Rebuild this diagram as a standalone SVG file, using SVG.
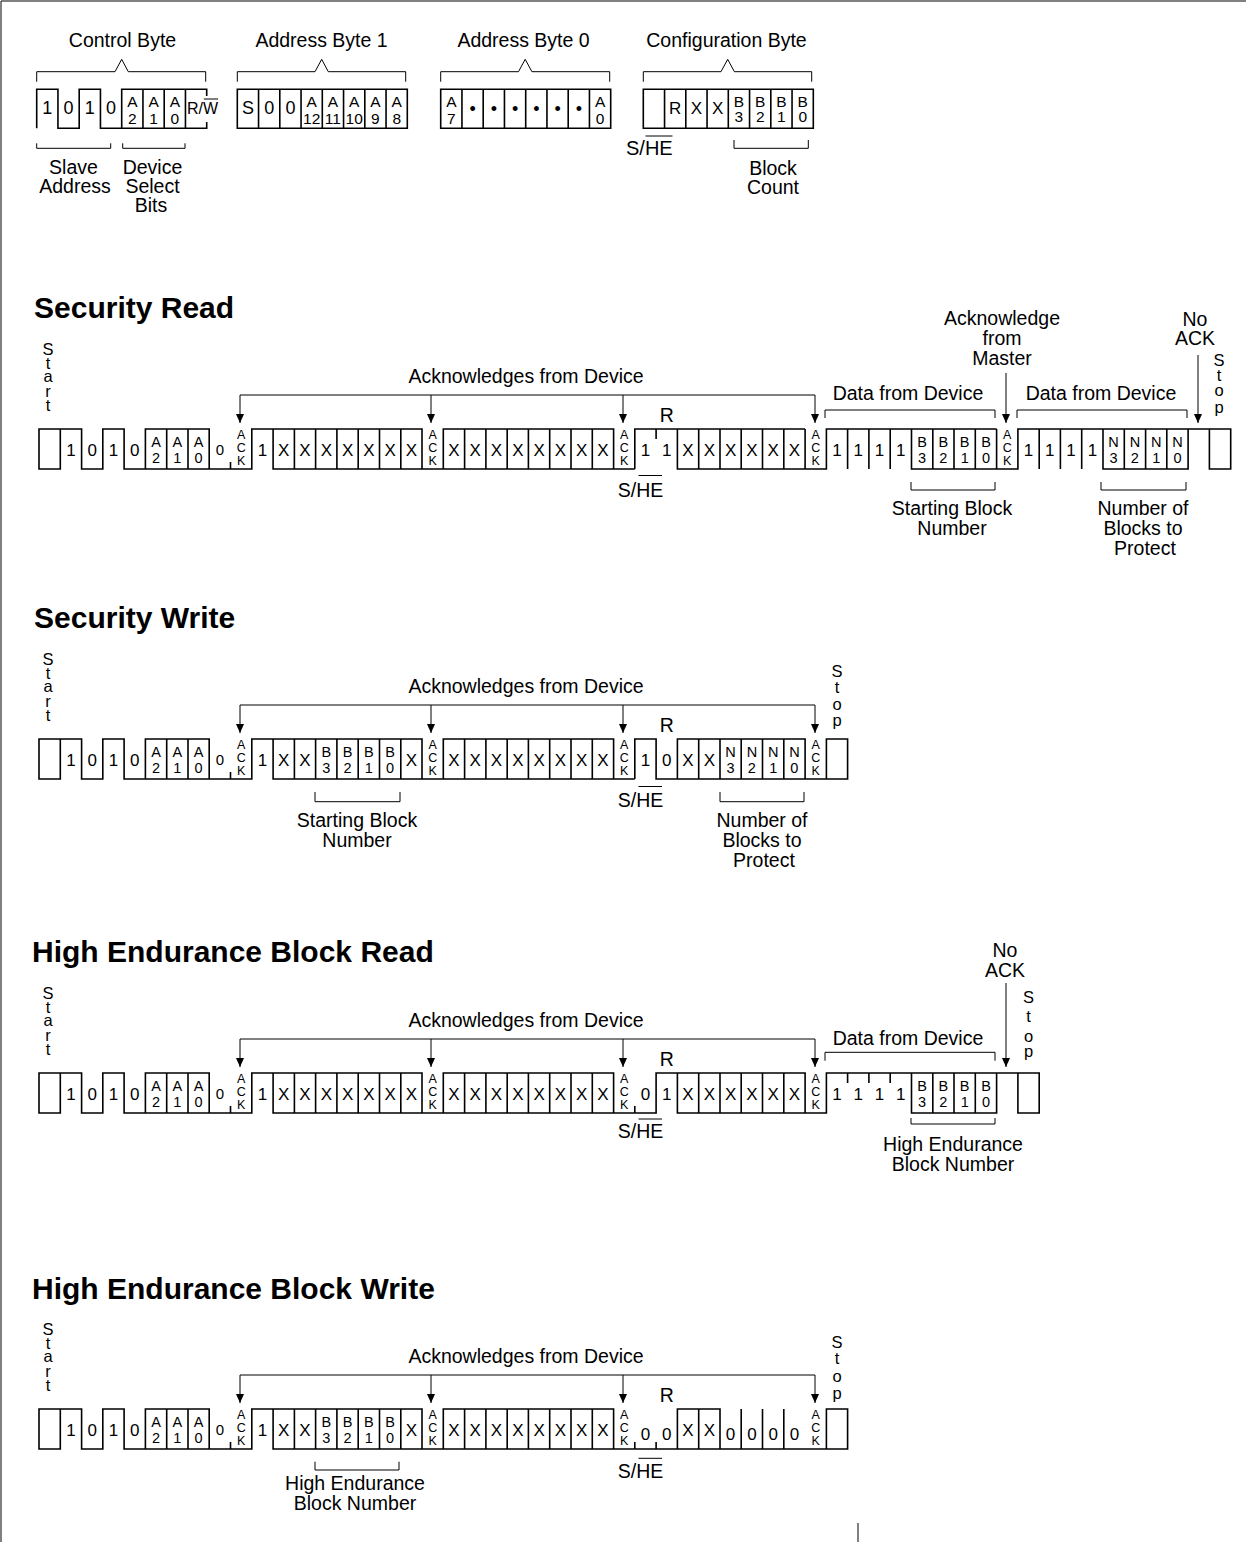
<svg xmlns="http://www.w3.org/2000/svg" width="1246" height="1542" viewBox="0 0 1246 1542">
<style>
text{font-family:"Liberation Sans",Arial,Helvetica,sans-serif;fill:#000}
.lb{font-size:19.5px;text-anchor:middle}
.ti{font-size:30px;font-weight:bold}
.c{font-size:17px;text-anchor:middle}
.c0{font-size:15px;text-anchor:middle}
.ct{font-size:18px;text-anchor:middle}
.s{font-size:14.5px;text-anchor:middle}
.st{font-size:15.5px;text-anchor:middle}
.k{font-size:12.5px;text-anchor:middle}
.v{font-size:16.5px;text-anchor:middle}
.w{fill:none;stroke:#000;stroke-width:1.6}
.t{fill:none;stroke:#000;stroke-width:1}
.ar{fill:none;stroke:#000;stroke-width:1;marker-end:url(#ah)}
</style>
<defs>
<marker id="ah" markerUnits="userSpaceOnUse" markerWidth="9" markerHeight="8" refX="9" refY="4" orient="auto" viewBox="0 0 9 8"><path d="M0,0L9,4L0,8Z" fill="#000"/></marker>
<path id="wpre" class="w" d="M39,429H60.3V469H39Z M60.3,429H81.6V469H102.8V429H124.1V469H251.8V429H273.1V469H443.3V429H613.6V469H634.8 M145.4,469V429H209.2V469 M166.7,429V469M188,429V469 M230.5,462V469 M273.1,429H422V469 M294.4,429V469M315.6,429V469M336.9,429V469M358.2,429V469M379.5,429V469M400.8,429V469 M443.3,469H613.6 M464.6,429V469M485.9,429V469M507.2,429V469M528.4,429V469M549.7,429V469M571,429V469M592.3,429V469"/>
<g id="tpre">
<text class="c" y="455.5"><tspan x="70.9">1</tspan><tspan x="92.2">0</tspan><tspan x="113.5">1</tspan><tspan x="134.8">0</tspan><tspan x="262.4">1</tspan></text>
<text class="s"><tspan x="156" y="446.5">A</tspan><tspan x="156" y="463">2</tspan></text>
<text class="s"><tspan x="177.3" y="446.5">A</tspan><tspan x="177.3" y="463">1</tspan></text>
<text class="s"><tspan x="198.6" y="446.5">A</tspan><tspan x="198.6" y="463">0</tspan></text>
<text class="c0" x="219.9" y="455">0</text>
<text class="k"><tspan x="241.2" y="438.5">A</tspan><tspan x="241.2" y="451.5">C</tspan><tspan x="241.2" y="464.5">K</tspan></text>
<text class="k"><tspan x="432.7" y="438.5">A</tspan><tspan x="432.7" y="451.5">C</tspan><tspan x="432.7" y="464.5">K</tspan></text>
<text class="k"><tspan x="624.2" y="438.5">A</tspan><tspan x="624.2" y="451.5">C</tspan><tspan x="624.2" y="464.5">K</tspan></text>
<text class="c" y="455.5"><tspan x="454">X</tspan><tspan x="475.2">X</tspan><tspan x="496.5">X</tspan><tspan x="517.8">X</tspan><tspan x="539.1">X</tspan><tspan x="560.4">X</tspan><tspan x="581.6">X</tspan><tspan x="602.9">X</tspan></text>
<text class="lb" x="526" y="383">Acknowledges from Device</text>
<path class="t" d="M240,395H815"/>
<path class="ar" d="M240,395V423"/><path class="ar" d="M431,395V423"/><path class="ar" d="M623,395V423"/><path class="ar" d="M815,395V423"/>
<text class="v"><tspan x="48" y="355">S</tspan><tspan x="48" y="369">t</tspan><tspan x="48" y="382">a</tspan><tspan x="48" y="397">r</tspan><tspan x="48" y="411">t</tspan></text>
<text class="lb" x="666.8" y="422">R</text>
</g>
</defs>

<path class="t" stroke-width="1.5" d="M1,1542V1H1246"/>
<path class="t" stroke-width="1.5" d="M858,1523V1542"/>

<g id="control-byte">
<text class="lb" x="122.5" y="47">Control Byte</text>
<path class="t" d="M36.7,81.7V71.7H115L121.7,59.3L128.3,71.7H205.7V81.7"/>
<path class="w" d="M36.7,128.3V89.3H57.95V128.3H79.2V89.3H100.45V128.3H206.7V122 M121.7,128.3V89.3H206.7V96 M142.95,89.3V128.3 M164.2,89.3V128.3 M185.45,89.3V128.3"/>
<text class="ct" y="113.5"><tspan x="47.3">1</tspan><tspan x="68.6">0</tspan><tspan x="89.8">1</tspan><tspan x="111.1">0</tspan></text>
<text class="st"><tspan x="132.3" y="107">A</tspan><tspan x="132.3" y="123.5">2</tspan></text>
<text class="st"><tspan x="153.6" y="107">A</tspan><tspan x="153.6" y="123.5">1</tspan></text>
<text class="st"><tspan x="174.8" y="107">A</tspan><tspan x="174.8" y="123.5">0</tspan></text>
<text x="187" y="113.5" style="font-size:16px">R/W</text>
<path class="t" d="M203.8,99H218"/>
<path class="t" d="M36.7,143.3V148.3H110.7V143.3 M122.7,143.3V148.3H185V143.3"/>
<text class="lb" x="73.5" y="174">Slave</text>
<text class="lb" x="75" y="193">Address</text>
<text class="lb" x="152.5" y="174">Device</text>
<text class="lb" x="152.5" y="193">Select</text>
<text class="lb" x="151" y="212">Bits</text>
</g>

<g id="address-byte-1">
<text class="lb" x="321.5" y="47">Address Byte 1</text>
<path class="t" d="M237.3,81.7V71.7H315L321.7,59.3L328.3,71.7H405.7V81.7"/>
<path class="w" d="M237.3,89.3H407.3V128.3H237.3Z M258.55,89.3V128.3M279.8,89.3V128.3M301.05,89.3V128.3M322.3,89.3V128.3M343.55,89.3V128.3M364.8,89.3V128.3M386.05,89.3V128.3"/>
<text class="ct" y="113.5"><tspan x="247.9">S</tspan><tspan x="269.2">0</tspan><tspan x="290.4">0</tspan></text>
<text class="st" y="107"><tspan x="311.7">A</tspan><tspan x="332.9">A</tspan><tspan x="354.2">A</tspan><tspan x="375.4">A</tspan><tspan x="396.7">A</tspan></text>
<text class="st" y="123.5"><tspan x="311.7">12</tspan><tspan x="332.9">11</tspan><tspan x="354.2">10</tspan><tspan x="375.4">9</tspan><tspan x="396.7">8</tspan></text>
</g>

<g id="address-byte-0">
<text class="lb" x="523.5" y="47">Address Byte 0</text>
<path class="t" d="M440.7,81.7V71.7H518.5L525.2,59.3L531.9,71.7H609.7V81.7"/>
<path class="w" d="M440.7,89.3H610.7V128.3H440.7Z M461.95,89.3V128.3M483.2,89.3V128.3M504.45,89.3V128.3M525.7,89.3V128.3M546.95,89.3V128.3M568.2,89.3V128.3M589.45,89.3V128.3"/>
<text class="st"><tspan x="451.3" y="107">A</tspan><tspan x="451.3" y="123.5">7</tspan></text>
<text class="st"><tspan x="600.1" y="107">A</tspan><tspan x="600.1" y="123.5">0</tspan></text>
<text class="ct" y="115"><tspan x="472.6">•</tspan><tspan x="493.8">•</tspan><tspan x="515.1">•</tspan><tspan x="536.3">•</tspan><tspan x="557.6">•</tspan><tspan x="578.8">•</tspan></text>
</g>

<g id="configuration-byte">
<text class="lb" x="726.5" y="47">Configuration Byte</text>
<path class="t" d="M643.3,81.7V71.7H721L727.7,59.3L734.4,71.7H811.7V81.7"/>
<path class="w" d="M643.3,89.3H813.3V128.3H643.3Z M664.55,89.3V128.3M685.8,89.3V128.3M707.05,89.3V128.3M728.3,89.3V128.3M749.55,89.3V128.3M770.8,89.3V128.3M792.05,89.3V128.3"/>
<text class="c" y="114"><tspan x="675.2">R</tspan><tspan x="696.4">X</tspan><tspan x="717.7">X</tspan></text>
<text class="st" y="107"><tspan x="738.9">B</tspan><tspan x="760.2">B</tspan><tspan x="781.4">B</tspan><tspan x="802.7">B</tspan></text>
<text class="st" y="122"><tspan x="738.9">3</tspan><tspan x="760.2">2</tspan><tspan x="781.4">1</tspan><tspan x="802.7">0</tspan></text>
<text x="626" y="155" style="font-size:20px">S/HE</text>
<path class="t" d="M645.5,136H672.5"/>
<path class="t" d="M734,140V148.3H808.3V140"/>
<text class="lb" x="773" y="175">Block</text>
<text class="lb" x="773" y="194">Count</text>
</g>

<text class="ti" x="34" y="318">Security Read</text>
<g id="security-read">
<use href="#wpre"/>
<use href="#tpre"/>
<path class="w" d="M634.8,469V429H805.1 M677.4,429V469H826.4V429H996.6 M656.1,429V439 M698.7,429V469M720,429V469M741.2,429V469M762.5,429V469M783.8,429V469M805.1,429V469 M847.6,429V469M868.9,429V469M890.2,429V469 M911.5,429V469H1017.9V429H1209.4 M932.8,429V469M954,429V469M975.3,429V469M996.6,429V469 M1039.2,429V469M1060.4,429V469M1081.7,429V469 M1103,429V469H1188.1V429 M1124.3,429V469M1145.6,429V469M1166.8,429V469 M1209.4,429H1230.7V469H1209.4Z"/>
<text class="c" y="455.5"><tspan x="283.7">X</tspan><tspan x="305">X</tspan><tspan x="326.3">X</tspan><tspan x="347.6">X</tspan><tspan x="368.8">X</tspan><tspan x="390.1">X</tspan><tspan x="411.4">X</tspan><tspan x="645.5">1</tspan><tspan x="666.8">1</tspan><tspan x="688">X</tspan><tspan x="709.3">X</tspan><tspan x="730.6">X</tspan><tspan x="751.9">X</tspan><tspan x="773.2">X</tspan><tspan x="794.4">X</tspan><tspan x="837">1</tspan><tspan x="858.3">1</tspan><tspan x="879.6">1</tspan><tspan x="900.8">1</tspan><tspan x="1028.5">1</tspan><tspan x="1049.8">1</tspan><tspan x="1071.1">1</tspan><tspan x="1092.4">1</tspan></text>
<text class="k"><tspan x="815.7" y="438.5">A</tspan><tspan x="815.7" y="451.5">C</tspan><tspan x="815.7" y="464.5">K</tspan></text>
<text class="k"><tspan x="1007.2" y="438.5">A</tspan><tspan x="1007.2" y="451.5">C</tspan><tspan x="1007.2" y="464.5">K</tspan></text>
<text class="s" y="446.5"><tspan x="922.1">B</tspan><tspan x="943.4">B</tspan><tspan x="964.7">B</tspan><tspan x="986">B</tspan><tspan x="1113.6">N</tspan><tspan x="1134.9">N</tspan><tspan x="1156.2">N</tspan><tspan x="1177.5">N</tspan></text>
<text class="s" y="463"><tspan x="922.1">3</tspan><tspan x="943.4">2</tspan><tspan x="964.7">1</tspan><tspan x="986">0</tspan><tspan x="1113.6">3</tspan><tspan x="1134.9">2</tspan><tspan x="1156.2">1</tspan><tspan x="1177.5">0</tspan></text>
<text class="lb" x="640.5" y="497">S/HE</text>
<path class="t" d="M638.5,475.5H662"/>
<text class="lb" x="908" y="400">Data from Device</text>
<path class="t" d="M825,418V410H995V418"/>
<text class="lb" x="1002" y="325">Acknowledge</text>
<text class="lb" x="1002" y="345">from</text>
<text class="lb" x="1002" y="365">Master</text>
<path class="ar" d="M1006,373V423"/>
<text class="lb" x="1101" y="400">Data from Device</text>
<path class="t" d="M1017,418V410H1187V418"/>
<text class="lb" x="1195" y="326">No</text>
<text class="lb" x="1195" y="345">ACK</text>
<path class="ar" d="M1198,355V423"/>
<text class="v"><tspan x="1219" y="366">S</tspan><tspan x="1219" y="381">t</tspan><tspan x="1219" y="396">o</tspan><tspan x="1219" y="412.5">p</tspan></text>
<path class="t" d="M911,482V490H995V482"/>
<text class="lb" x="952" y="515">Starting Block</text>
<text class="lb" x="952" y="535">Number</text>
<path class="t" d="M1101,482V490H1186V482"/>
<text class="lb" x="1143" y="515">Number of</text>
<text class="lb" x="1143" y="535">Blocks to</text>
<text class="lb" x="1145" y="555">Protect</text>
</g>

<text class="ti" x="34" y="628">Security Write</text>
<g id="security-write" transform="translate(0,310)">
<use href="#wpre"/>
<use href="#tpre"/>
<path class="w" d="M634.8,469V429H656.1V469H677.4V429H805.1V469 M677.4,469H826.4 M698.7,429V469M720,429V469M741.2,429V469M762.5,429V469M783.8,429V469 M826.4,429H847.6V469H826.4Z"/>
<text class="c" y="455.5"><tspan x="283.7">X</tspan><tspan x="305">X</tspan><tspan x="411.4">X</tspan><tspan x="645.5">1</tspan><tspan x="666.8">0</tspan><tspan x="688">X</tspan><tspan x="709.3">X</tspan></text>
<text class="s" y="446.5"><tspan x="326.3">B</tspan><tspan x="347.6">B</tspan><tspan x="368.8">B</tspan><tspan x="390.1">B</tspan><tspan x="730.6">N</tspan><tspan x="751.9">N</tspan><tspan x="773.2">N</tspan><tspan x="794.4">N</tspan></text>
<text class="s" y="463"><tspan x="326.3">3</tspan><tspan x="347.6">2</tspan><tspan x="368.8">1</tspan><tspan x="390.1">0</tspan><tspan x="730.6">3</tspan><tspan x="751.9">2</tspan><tspan x="773.2">1</tspan><tspan x="794.4">0</tspan></text>
<text class="k"><tspan x="815.7" y="438.5">A</tspan><tspan x="815.7" y="451.5">C</tspan><tspan x="815.7" y="464.5">K</tspan></text>
<text class="lb" x="640.5" y="496.7">S/HE</text>
<path class="t" d="M638.5,476.5H662"/>
<text class="v"><tspan x="837" y="367">S</tspan><tspan x="837" y="383">t</tspan><tspan x="837" y="400">o</tspan><tspan x="837" y="416">p</tspan></text>
<path class="t" d="M315,482V491.7H400V482"/>
<text class="lb" x="357" y="516.7">Starting Block</text>
<text class="lb" x="357" y="536.7">Number</text>
<path class="t" d="M720,482V491.7H804V482"/>
<text class="lb" x="762" y="516.7">Number of</text>
<text class="lb" x="762" y="536.7">Blocks to</text>
<text class="lb" x="764" y="556.7">Protect</text>
</g>

<text class="ti" x="32" y="962">High Endurance Block Read</text>
<g id="he-block-read" transform="translate(0,644)">
<use href="#wpre"/>
<use href="#tpre"/>
<path class="w" d="M634.8,462V469 M634.8,469H656.1V429H805.1V469 M677.4,429V469H826.4V429H1017.9 M698.7,429V469M720,429V469M741.2,429V469M762.5,429V469M783.8,429V469 M847.6,429V439M868.9,429V439M890.2,429V439 M911.5,429V469H996.6V429 M932.8,429V469M954,429V469M975.3,429V469 M1017.9,429H1039.2V469H1017.9Z"/>
<text class="c" y="455.5"><tspan x="283.7">X</tspan><tspan x="305">X</tspan><tspan x="326.3">X</tspan><tspan x="347.6">X</tspan><tspan x="368.8">X</tspan><tspan x="390.1">X</tspan><tspan x="411.4">X</tspan><tspan x="645.5">0</tspan><tspan x="666.8">1</tspan><tspan x="688">X</tspan><tspan x="709.3">X</tspan><tspan x="730.6">X</tspan><tspan x="751.9">X</tspan><tspan x="773.2">X</tspan><tspan x="794.4">X</tspan><tspan x="837">1</tspan><tspan x="858.3">1</tspan><tspan x="879.6">1</tspan><tspan x="900.8">1</tspan></text>
<text class="k"><tspan x="815.7" y="438.5">A</tspan><tspan x="815.7" y="451.5">C</tspan><tspan x="815.7" y="464.5">K</tspan></text>
<text class="s" y="446.5"><tspan x="922.1">B</tspan><tspan x="943.4">B</tspan><tspan x="964.7">B</tspan><tspan x="986">B</tspan></text>
<text class="s" y="463"><tspan x="922.1">3</tspan><tspan x="943.4">2</tspan><tspan x="964.7">1</tspan><tspan x="986">0</tspan></text>
<text class="lb" x="640.5" y="494.3">S/HE</text>
<path class="t" d="M638.5,475H662"/>
<text class="lb" x="908" y="401">Data from Device</text>
<path class="t" d="M825,416.7V408.3H995V416.7"/>
<text class="lb" x="1005" y="312.7">No</text>
<text class="lb" x="1005" y="332.7">ACK</text>
<path class="ar" d="M1006,339V423"/>
<text class="v"><tspan x="1028.5" y="358.7">S</tspan><tspan x="1028.5" y="377.7">t</tspan><tspan x="1028.5" y="397.7">o</tspan><tspan x="1028.5" y="412.7">p</tspan></text>
<path class="t" d="M911,474V480H995V474"/>
<text class="lb" x="953" y="506.5">High Endurance</text>
<text class="lb" x="953" y="526.5">Block Number</text>
</g>

<text class="ti" x="32" y="1299">High Endurance Block Write</text>
<g id="he-block-write" transform="translate(0,980)">
<use href="#wpre"/>
<use href="#tpre"/>
<path class="w" d="M634.8,462V469M656.1,462V469 M634.8,469H826.4 M677.4,469V429H720V469 M698.7,429V469 M741.2,429V469M762.5,429V469M783.8,429V469 M826.4,429H847.6V469H826.4Z"/>
<text class="c" y="455.5"><tspan x="283.7">X</tspan><tspan x="305">X</tspan><tspan x="411.4">X</tspan><tspan x="688">X</tspan><tspan x="709.3">X</tspan></text>
<text class="c" y="460"><tspan x="645.5">0</tspan><tspan x="666.8">0</tspan><tspan x="730.6">0</tspan><tspan x="751.9">0</tspan><tspan x="773.2">0</tspan><tspan x="794.4">0</tspan></text>
<text class="s" y="446.5"><tspan x="326.3">B</tspan><tspan x="347.6">B</tspan><tspan x="368.8">B</tspan><tspan x="390.1">B</tspan></text>
<text class="s" y="463"><tspan x="326.3">3</tspan><tspan x="347.6">2</tspan><tspan x="368.8">1</tspan><tspan x="390.1">0</tspan></text>
<text class="k"><tspan x="815.7" y="438.5">A</tspan><tspan x="815.7" y="451.5">C</tspan><tspan x="815.7" y="464.5">K</tspan></text>
<text class="lb" x="640.5" y="498.3">S/HE</text>
<path class="t" d="M638.5,478.3H662"/>
<text class="v"><tspan x="837" y="368">S</tspan><tspan x="837" y="384">t</tspan><tspan x="837" y="402">o</tspan><tspan x="837" y="419">p</tspan></text>
<path class="t" d="M315,481.7V490H399V481.7"/>
<text class="lb" x="355" y="510">High Endurance</text>
<text class="lb" x="355" y="530">Block Number</text>
</g>
</svg>
